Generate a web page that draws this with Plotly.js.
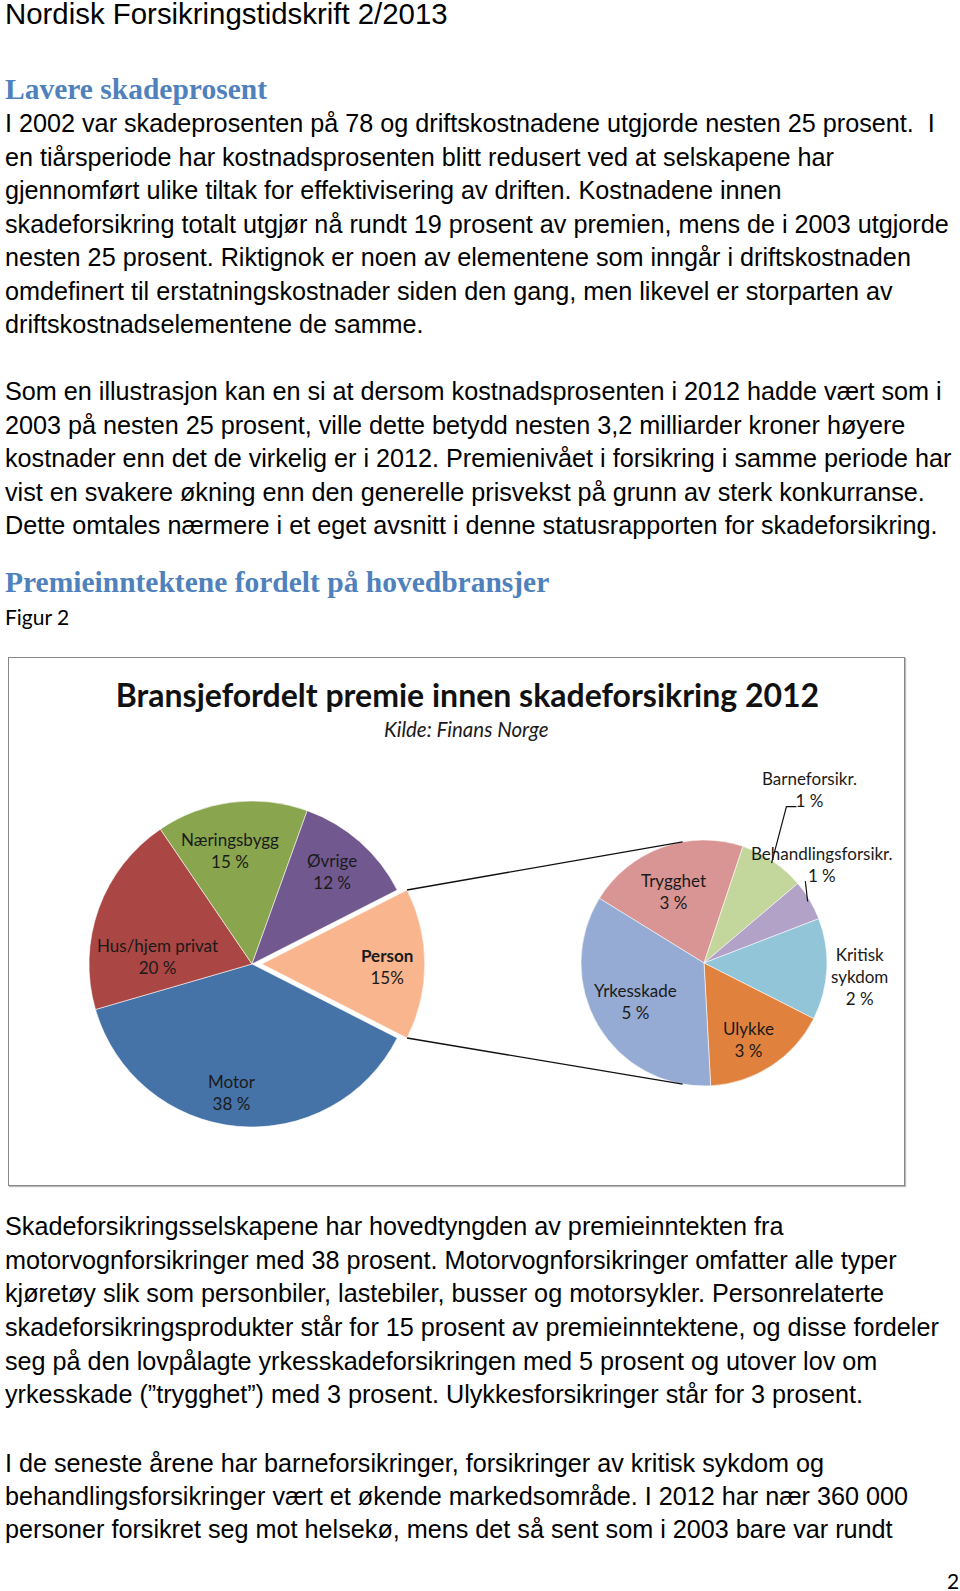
<!DOCTYPE html>
<html>
<head>
<meta charset="utf-8">
<script src="https://cdn.plot.ly/plotly-3.0.1.min.js"></script>
<style>
  html, body { margin:0; padding:0; background:#fff; }
  body { width:960px; height:1591px; position:relative; overflow:hidden; }
  .t { position:absolute; left:5px; white-space:pre; color:#000; margin:0; }
  .body { font-family:"Liberation Sans", Arial, sans-serif; font-size:25.2px; line-height:33.5px; }
  .hdr { font-family:"Liberation Sans", Arial, sans-serif; font-size:29.4px; line-height:34px; top:-3px; }
  .h2 { font-family:"Liberation Serif", serif; font-weight:bold; font-size:29.5px; line-height:36px; color:#4f81bd; }
  .cal { font-family:Lato, "Open Sans", sans-serif; font-size:21px; line-height:28px; }
  #box { position:absolute; left:8px; top:657px; width:895px; height:527px; border:1px solid #888; box-shadow:1px 1px 1px #bbb; }
  #chart { width:895px; height:527px; }
</style>
</head>
<body>
<div class="t hdr">Nordisk Forsikringstidskrift 2/2013</div>
<div class="t h2" style="top:71px">Lavere skadeprosent</div>
<div class="t body" style="top:107px">I 2002 var skadeprosenten på 78 og driftskostnadene utgjorde nesten 25 prosent.  I
en tiårsperiode har kostnadsprosenten blitt redusert ved at selskapene har
gjennomført ulike tiltak for effektivisering av driften. Kostnadene innen
skadeforsikring totalt utgjør nå rundt 19 prosent av premien, mens de i 2003 utgjorde
nesten 25 prosent. Riktignok er noen av elementene som inngår i driftskostnaden
omdefinert til erstatningskostnader siden den gang, men likevel er storparten av
driftskostnadselementene de samme.</div>
<div class="t body" style="top:375px">Som en illustrasjon kan en si at dersom kostnadsprosenten i 2012 hadde vært som i
2003 på nesten 25 prosent, ville dette betydd nesten 3,2 milliarder kroner høyere
kostnader enn det de virkelig er i 2012. Premienivået i forsikring i samme periode har
vist en svakere økning enn den generelle prisvekst på grunn av sterk konkurranse.
Dette omtales nærmere i et eget avsnitt i denne statusrapporten for skadeforsikring.</div>
<div class="t h2" style="top:564px">Premieinntektene fordelt på hovedbransjer</div>
<div class="t cal" style="top:603px">Figur 2</div>
<div id="box"><div id="chart"></div></div>
<div class="t body" style="top:1210px; line-height:33.65px">Skadeforsikringsselskapene har hovedtyngden av premieinntekten fra
motorvognforsikringer med 38 prosent. Motorvognforsikringer omfatter alle typer
kjøretøy slik som personbiler, lastebiler, busser og motorsykler. Personrelaterte
skadeforsikringsprodukter står for 15 prosent av premieinntektene, og disse fordeler
seg på den lovpålagte yrkesskadeforsikringen med 5 prosent og utover lov om
yrkesskade (”trygghet”) med 3 prosent. Ulykkesforsikringer står for 3 prosent.</div>
<div class="t body" style="top:1446.5px; line-height:33px">I de seneste årene har barneforsikringer, forsikringer av kritisk sykdom og
behandlingsforsikringer vært et økende markedsområde. I 2012 har nær 360 000
personer forsikret seg mot helsekø, mens det så sent som i 2003 bare var rundt</div>
<div class="t cal" style="top:1567px; left:947px">2</div>

<script>
// ---- data ----
const mainLabels = ['Person', 'Motor', 'Hus/hjem privat', 'Næringsbygg', 'Øvrige'];
const mainValues = [15, 38, 20, 15, 12];
const mainPctText = ['15%', '38 %', '20 %', '15 %', '12 %'];

const subLabels = ['Trygghet', 'Barneforsikr.', 'Behandlingsforsikr.', 'Kritisk<br>sykdom', 'Ulykke', 'Yrkesskade'];
const subValues = [3.2, 1.3, 0.8, 2.0, 2.5, 5.2];
const subPctText = ['3 %', '1 %', '1 %', '2 %', '3 %', '5 %'];

const chartTitle = 'Bransjefordelt premie innen skadeforsikring 2012';
const chartSource = 'Kilde: Finans Norge';

// ---- style / geometry ----
const mainColors = ['#f9b58d', '#4572a7', '#aa4643', '#89a54e', '#71588f'];
const subColors = ['#d99594', '#c3d69b', '#b3a2c7', '#93c5d9', '#e0823d', '#95abd3'];
const W = 895, H = 527;
const GL = {cx: 243, cy: 306, r: 163, rot: 63};
const GR = {cx: 695, cy: 305, r: 123, rot: -58.3};
const mainPull = [0.06, 0, 0, 0, 0];
// label placement: [radius fraction, angle shift in degrees]
const mainLabelPlace = [[0.767, 1], [0.80, 3.5], [0.58, -15.4], [0.712, -3.7], [0.748, -0.6]];
const subLabelPlace = [[0.63, -2.9], [1.65, -2.8], [1.254, -9.2], [1.273, 2.1], [0.725, 2.8], [0.64, 1.2]];
const fontFam = 'Lato, "Open Sans", sans-serif';

function px2x(x) { return x / W; }
function px2y(y) { return 1 - y / H; }
function domainFor(g, pull) {
  const half = g.r * (1 + pull);
  return {x: [px2x(g.cx - half), px2x(g.cx + half)], y: [px2y(g.cy + half), px2y(g.cy - half)]};
}
function angles(values, rot) {
  const tot = values.reduce((a, b) => a + b, 0);
  let a = rot; const out = [];
  values.forEach(v => { const span = v / tot * 360; out.push({start: a, mid: a + span / 2, end: a + span}); a += span; });
  return out;
}
function pt(cx, cy, r, clockDeg) {
  const t = clockDeg * Math.PI / 180;
  return [cx + r * Math.sin(t), cy - r * Math.cos(t)];
}

const maxPull = Math.max(...mainPull);
const angL = angles(mainValues, GL.rot);
const angR = angles(subValues, GR.rot);

const traces = [
  {type: 'pie', labels: mainLabels, values: mainValues, sort: false, direction: 'clockwise', rotation: GL.rot,
   pull: mainPull, marker: {colors: mainColors, line: {color: 'rgba(255,255,255,0.7)', width: 0.8}},
   textinfo: 'none', hoverinfo: 'skip', domain: domainFor(GL, maxPull), showlegend: false},
  {type: 'pie', labels: subLabels, values: subValues, sort: false, direction: 'clockwise', rotation: GR.rot,
   marker: {colors: subColors, line: {color: 'rgba(255,255,255,0.7)', width: 0.8}},
   textinfo: 'none', hoverinfo: 'skip', domain: domainFor(GR, 0), showlegend: false}
];

const annotations = [];
const txtFont = {family: fontFam, size: 17, color: '#1a1a1a'};
mainLabels.forEach((lab, i) => {
  const a = angL[i];
  const c = pt(GL.cx, GL.cy, GL.r * mainPull[i], a.mid);
  const p = pt(c[0], c[1], GL.r * mainLabelPlace[i][0], a.mid + mainLabelPlace[i][1]);
  const bold = i === 0;
  annotations.push({x: px2x(p[0]), y: px2y(p[1]), xref: 'paper', yref: 'paper', showarrow: false,
    text: (bold ? '<b>' + lab + '</b>' : lab) + '<br>' + mainPctText[i], font: txtFont,
    xanchor: 'center', yanchor: 'middle', align: 'center'});
});
subLabels.forEach((lab, i) => {
  const a = angR[i];
  const p = pt(GR.cx, GR.cy, GR.r * subLabelPlace[i][0], a.mid + subLabelPlace[i][1]);
  annotations.push({x: px2x(p[0]), y: px2y(p[1]), xref: 'paper', yref: 'paper', showarrow: false,
    text: lab + '<br>' + subPctText[i], font: txtFont, xanchor: 'center', yanchor: 'middle', align: 'center'});
});
annotations.push({x: px2x(457.5), y: px2y(71), xref: 'paper', yref: 'paper', showarrow: false,
  text: '<i>' + chartSource + '</i>', font: {family: fontFam, size: 20.5, color: '#1a1a1a'}, xanchor: 'center', yanchor: 'middle'});

// connector lines between the split slice and the secondary pie
const shapes = [];
const pc = pt(GL.cx, GL.cy, GL.r * mainPull[0], angL[0].mid);
const topA = pt(pc[0], pc[1], GL.r, angL[0].start);
const botA = pt(pc[0], pc[1], GL.r, angL[0].end);
const topB = pt(GR.cx, GR.cy, GR.r, -10);
const botB = pt(GR.cx, GR.cy, GR.r, 190);
[[topA, topB], [botA, botB]].forEach(([a, b]) => {
  shapes.push({type: 'line', xref: 'paper', yref: 'paper', x0: px2x(a[0]), y0: px2y(a[1]), x1: px2x(b[0]), y1: px2y(b[1]),
    line: {color: '#111', width: 1.4}});
});
// leader lines for the small slices
const barneLab = pt(GR.cx, GR.cy, GR.r * subLabelPlace[1][0], angR[1].mid + subLabelPlace[1][1]);
const barneS = pt(GR.cx, GR.cy, GR.r * 0.98, angR[1].mid);
const behLab = pt(GR.cx, GR.cy, GR.r * subLabelPlace[2][0], angR[2].mid + subLabelPlace[2][1]);
const behS = pt(GR.cx, GR.cy, GR.r * 0.98, angR[2].mid);
const pathToPaper = (pts) => 'M ' + pts.map(p => px2x(p[0]) + ',' + px2y(p[1])).join(' L ');
shapes.push({type: 'path', xref: 'paper', yref: 'paper',
  path: pathToPaper([barneS, [barneLab[0] - 23, barneLab[1] + 17], [barneLab[0] - 13, barneLab[1] + 17]]),
  line: {color: '#111', width: 1.2}});
shapes.push({type: 'path', xref: 'paper', yref: 'paper',
  path: pathToPaper([[behLab[0] - 17, behLab[1] + 17], behS]),
  line: {color: '#111', width: 1.2}});

const layout = {
  width: W, height: H, margin: {l: 0, r: 0, t: 0, b: 0},
  paper_bgcolor: '#fff', plot_bgcolor: '#fff', showlegend: false,
  title: {text: '<b>' + chartTitle + '</b>', x: px2x(458.5), xanchor: 'center', y: px2y(38), yanchor: 'middle',
    xref: 'paper', yref: 'paper', font: {family: fontFam, size: 32, color: '#111'}},
  annotations: annotations, shapes: shapes
};
Plotly.newPlot('chart', traces, layout, {staticPlot: true, displayModeBar: false});
</script>
</body>
</html>
